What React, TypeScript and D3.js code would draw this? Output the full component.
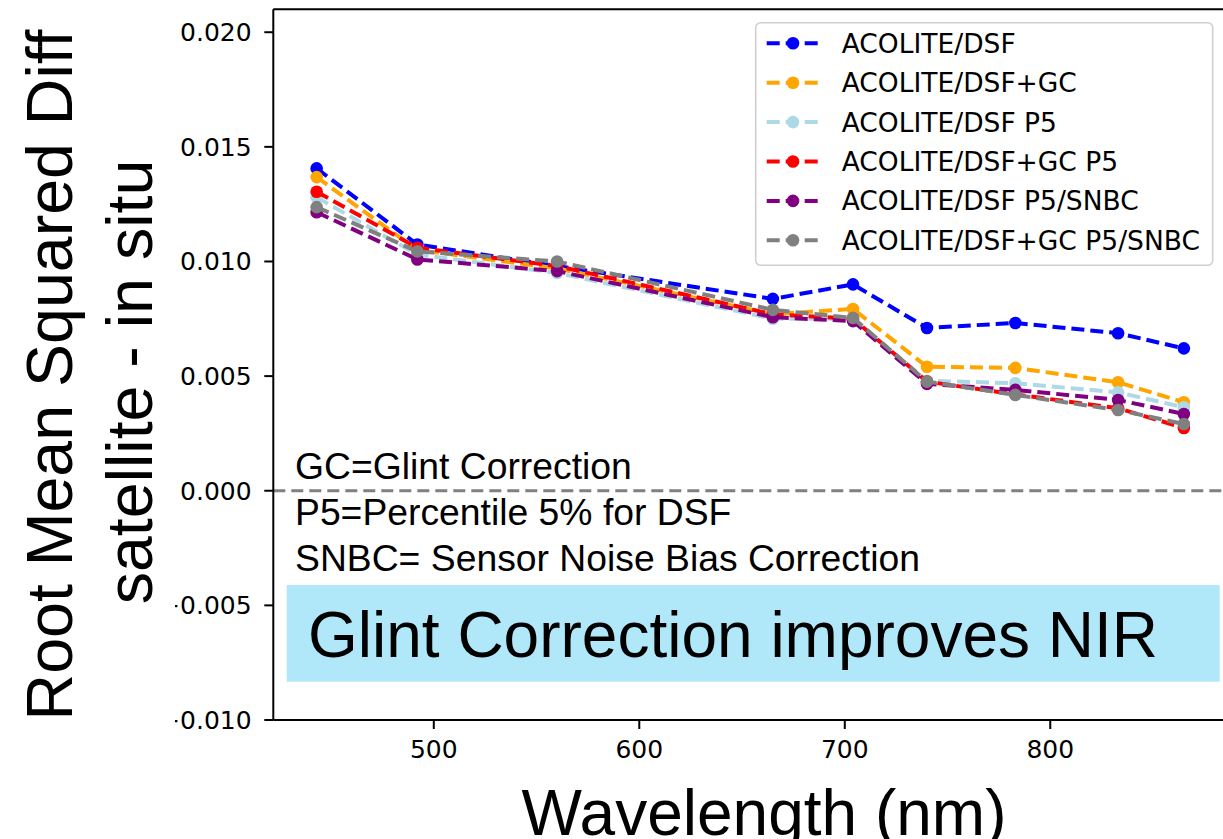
import React from "react";
import * as d3 from "d3";

const wavelengths = [443, 492, 560, 665, 704, 740, 783, 833, 865];

const seriesNames = [
  "ACOLITE/DSF",
  "ACOLITE/DSF+GC",
  "ACOLITE/DSF P5",
  "ACOLITE/DSF+GC P5",
  "ACOLITE/DSF P5/SNBC",
  "ACOLITE/DSF+GC P5/SNBC",
];
const seriesColors = ["#0000ff", "#ffa500", "#add8e6", "#ff0000", "#800080", "#808080"];

const dsf = [0.01406, 0.01074, 0.0098, 0.00837, 0.009, 0.0071, 0.00732, 0.00687, 0.00621];
const dsfGc = [0.01368, 0.0105, 0.0097, 0.0077, 0.00793, 0.00541, 0.00536, 0.00473, 0.00386];
const dsfP5 = [0.0128, 0.0103, 0.0095, 0.0075, 0.0075, 0.0048, 0.00469, 0.00429, 0.00364];
const dsfGcP5 = [0.01304, 0.0106, 0.0098, 0.0077, 0.0075, 0.00476, 0.0042, 0.0036, 0.00274];
const dsfP5Snbc = [0.01215, 0.01009, 0.00958, 0.00757, 0.0074, 0.00466, 0.0044, 0.00396, 0.00335];
const dsfGcP5Snbc = [0.01237, 0.01044, 0.01, 0.00789, 0.00754, 0.00476, 0.00418, 0.00352, 0.00291];

const seriesValues = [dsf, dsfGc, dsfP5, dsfGcP5, dsfP5Snbc, dsfGcP5Snbc];

const xTicks = [500, 600, 700, 800];
const yTicks = [-0.01, -0.005, 0, 0.005, 0.01, 0.015, 0.02];

const notes = ["GC=Glint Correction", "P5=Percentile 5% for DSF", "SNBC= Sensor Noise Bias Correction"];
const banner = "Glint Correction improves NIR";
const yTitle = ["Root Mean Squared Diff", "satellite - in situ"];
const xTitle = "Wavelength (nm)";

const W = 1223;
const H = 839;

export default function App() {
  const x = d3.scaleLinear().domain([421.9, 886.1]).range([273.3, 1227.2]);
  const y = d3.scaleLinear().domain([-0.01, 0.021]).range([720, 9.3]);
  const line = d3
    .line<number>()
    .x((_, i) => x(wavelengths[i]))
    .y((d) => y(d));

  const tickFont = "'DejaVu Sans', sans-serif";
  const arial = "'Liberation Sans', Arial, sans-serif";
  const fmt = (v: number) => {
    const s = Math.abs(v).toFixed(3);
    return v < 0 ? "\u2212" + s : s;
  };

  const plotLeft = x.range()[0];
  const plotTop = y.range()[1];
  const plotBottom = y.range()[0];

  const legendX = 755.7;
  const legendY = 22.7;
  const legendW = 457;
  const legendH = 242.6;
  const rowY0 = 43.3;
  const rowStep = 39.4;

  return (
    <svg
      width={W}
      height={H}
      style={{ position: "absolute", left: 0, top: 0, background: "#fff" }}
      viewBox={`0 0 ${W} ${H}`}
    >
      <defs>
        <clipPath id="tickclip">
          <rect x={175} y={0} width={100} height={H} />
        </clipPath>
        <clipPath id="plotclip">
          <rect x={plotLeft} y={plotTop} width={W - plotLeft} height={plotBottom - plotTop} />
        </clipPath>
      </defs>
      <rect x={0} y={0} width={W} height={H} fill="#fff" />

      {/* zero line */}
      <line
        x1={plotLeft}
        x2={W}
        y1={y(0)}
        y2={y(0)}
        stroke="#808080"
        strokeWidth={3}
        strokeDasharray="12,6"
      />

      {/* series */}
      <g clipPath="url(#plotclip)">
        {seriesValues.map((vals, si) => (
          <g key={si}>
            <path
              d={line(vals) || ""}
              fill="none"
              stroke={seriesColors[si]}
              strokeWidth={4}
              strokeDasharray="13,6"
            />
            {vals.map((v, i) => (
              <circle key={i} cx={x(wavelengths[i])} cy={y(v)} r={6.3} fill={seriesColors[si]} />
            ))}
          </g>
        ))}
      </g>

      {/* spines */}
      <line x1={plotLeft} x2={plotLeft} y1={plotTop} y2={plotBottom} stroke="#000" strokeWidth={2} />
      <line x1={plotLeft} x2={W} y1={plotBottom} y2={plotBottom} stroke="#000" strokeWidth={2} />
      <line x1={plotLeft} x2={W} y1={plotTop} y2={plotTop} stroke="#000" strokeWidth={2} />

      {/* y ticks */}
      <g clipPath="url(#tickclip)">
        {yTicks.map((t) => (
          <text
            key={t}
            x={251.7}
            y={y(t) + 9}
            textAnchor="end"
            fontFamily={tickFont}
            fontSize={25}
            fill="#000"
          >
            {fmt(t)}
          </text>
        ))}
      </g>
      {yTicks.map((t) => (
        <line key={"yt" + t} x1={plotLeft - 9} x2={plotLeft} y1={y(t)} y2={y(t)} stroke="#000" strokeWidth={2} />
      ))}

      {/* x ticks */}
      {xTicks.map((t) => (
        <g key={t}>
          <line x1={x(t)} x2={x(t)} y1={plotBottom} y2={plotBottom + 9} stroke="#000" strokeWidth={2} />
          <text x={x(t)} y={758} textAnchor="middle" fontFamily={tickFont} fontSize={25} fill="#000">
            {t}
          </text>
        </g>
      ))}

      {/* legend */}
      <rect
        x={legendX}
        y={legendY}
        width={legendW}
        height={legendH}
        rx={5}
        ry={5}
        fill="#fff"
        fillOpacity={0.85}
        stroke="#d0d0d0"
        strokeWidth={1.6}
      />
      {seriesNames.map((name, i) => {
        const cy = rowY0 + i * rowStep;
        return (
          <g key={name}>
            <line
              x1={766.7}
              x2={819.3}
              y1={cy}
              y2={cy}
              stroke={seriesColors[i]}
              strokeWidth={4}
              strokeDasharray="13,6"
            />
            <circle cx={793} cy={cy} r={6.3} fill={seriesColors[i]} />
            <text x={841.7} y={cy + 9.5} fontFamily={tickFont} fontSize={26.5} fill="#000">
              {name}
            </text>
          </g>
        );
      })}

      {/* notes */}
      {notes.map((n, i) => (
        <text key={n} x={295} y={479.3 + i * 45.7} fontFamily={arial} fontSize={37.3} fill="#000">
          {n}
        </text>
      ))}

      {/* banner */}
      <rect x={286.7} y={585} width={933} height={96.7} fill="#b0e8fa" />
      <text x={308} y={656.7} fontFamily={arial} fontSize={64} fill="#000">
        {banner}
      </text>

      {/* y title */}
      <text
        transform={`translate(72,375) rotate(-90)`}
        textAnchor="middle"
        fontFamily={arial}
        fontSize={64.5}
        fill="#000"
      >
        {yTitle[0]}
      </text>
      <text
        transform={`translate(152,382) rotate(-90)`}
        textAnchor="middle"
        fontFamily={arial}
        fontSize={64.5}
        fill="#000"
      >
        {yTitle[1]}
      </text>

      {/* x title */}
      <text x={764} y={835} textAnchor="middle" fontFamily={arial} fontSize={64} fill="#000">
        {xTitle}
      </text>
    </svg>
  );
}
